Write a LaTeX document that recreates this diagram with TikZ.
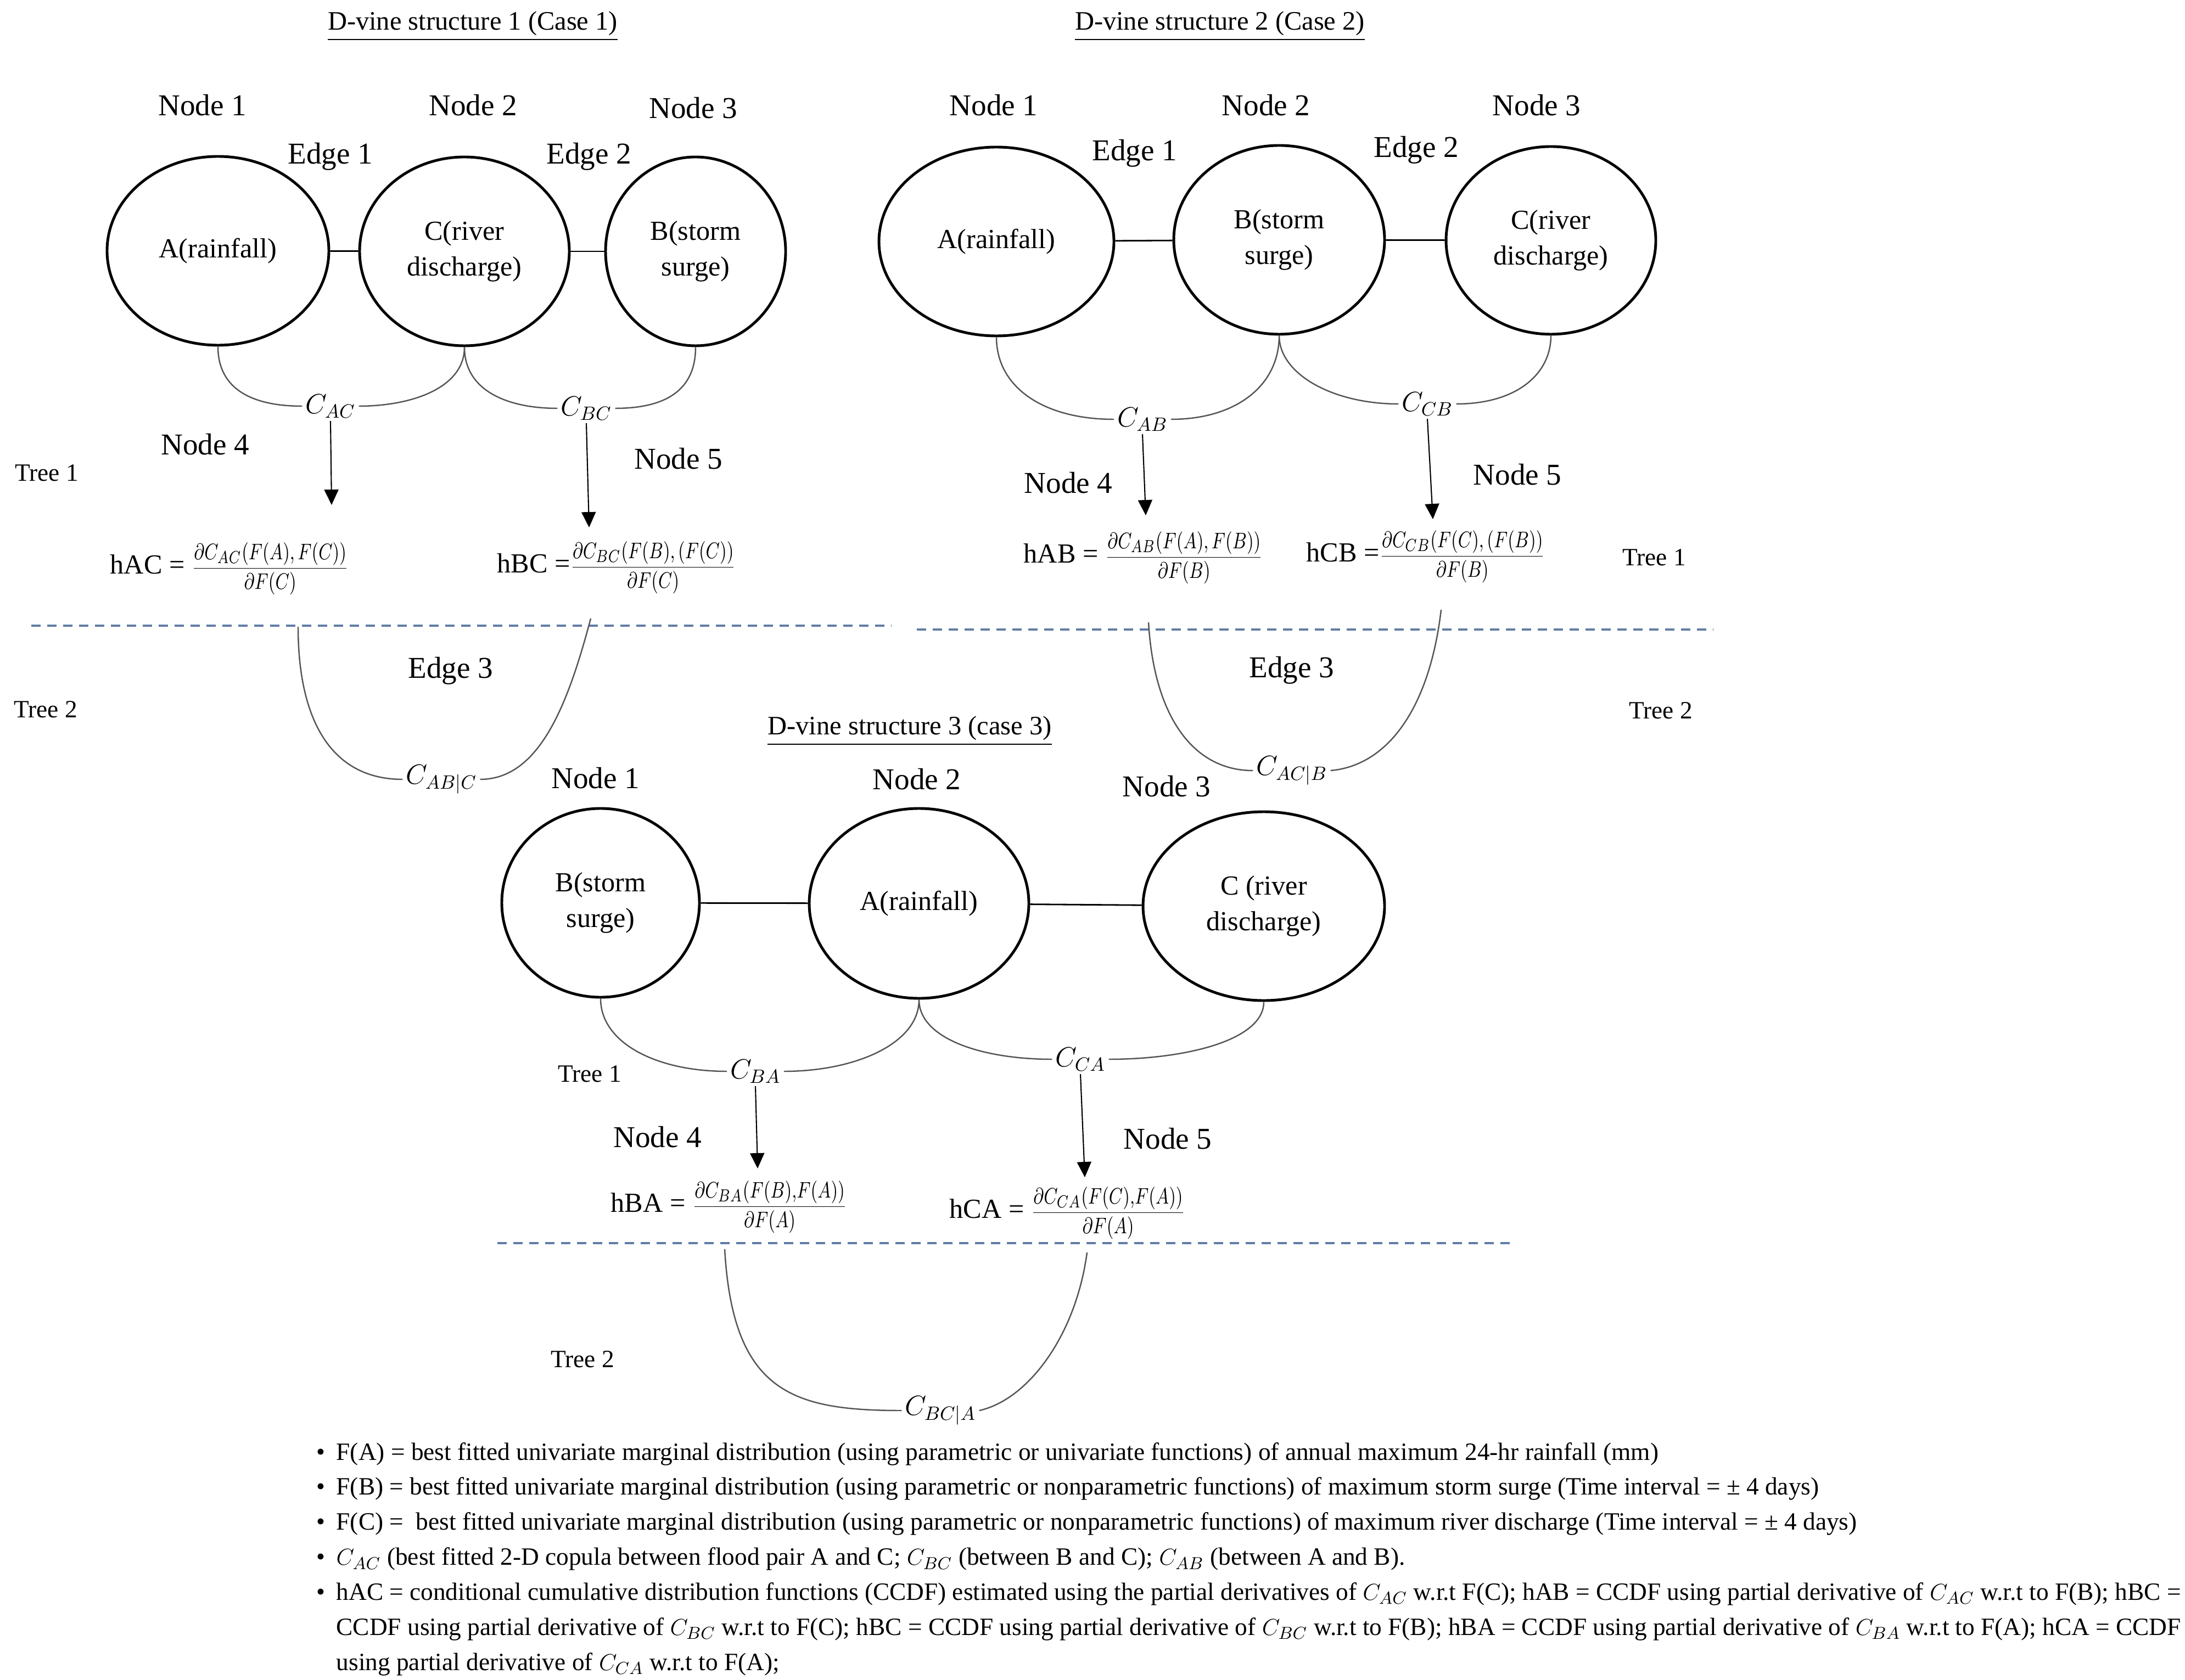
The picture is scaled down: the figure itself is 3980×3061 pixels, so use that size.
\documentclass[tikz,border=0pt]{standalone}
\usepackage{amsmath,amssymb}
\usepackage{fontspec}
\setmainfont{Liberation Serif}
\usepackage{tikz}
\usetikzlibrary{shapes.geometric, arrows.meta}
\usepackage{xcolor}
\definecolor{treeline}{RGB}{98,124,166}
\definecolor{arcgray}{RGB}{85,85,85}

\newcommand{\hfrac}[2]{\scalebox{1}[1.3]{\fontsize{9.5}{11}\selectfont$\dfrac{#1}{#2}$}}

\begin{document}
\begin{tikzpicture}[x=0.1mm,y=0.1mm,yscale=-1,xscale=1,
  vnode/.style={ellipse, draw, line width=1.4pt, inner sep=0pt, align=center, font=\fontsize{14.3}{18.5}\selectfont},
  lbl/.style={font=\fontsize{15.7}{19}\selectfont, inner sep=1pt},
  ttl/.style={font=\fontsize{13.8}{17}\selectfont, inner sep=1pt},
  treelbl/.style={font=\fontsize{12.9}{16}\selectfont, inner sep=1pt},
  cop/.style={font=\fontsize{14}{16}\selectfont, inner sep=1.5pt},
  hfun/.style={font=\fontsize{14.3}{17}\selectfont, inner sep=0pt, anchor=west},
  link/.style={line width=0.8pt},
  pair/.style={arcgray, line width=0.7pt},
  hdown/.style={-{Triangle[length=2.8mm,width=2.6mm]}, line width=0.6pt},
  tier/.style={treeline, line width=1.1pt, dash pattern=on 1.7mm off 1.2mm}]
\useasboundingbox (0,0) rectangle (3980,3061);

%%%%%%%%%%%%%%%% D-vine structure 1 %%%%%%%%%%%%%%%%
\node[ttl] (ttlA) at (861,48) {\underline{D-vine structure 1 (Case 1)}};
% Text Node
\node[lbl] (n1a) at (369,192) {Node 1};
\node[lbl] (n2a) at (862,192) {Node 2};
\node[lbl] (n3a) at (1263,197) {Node 3};
\node[lbl] (e1a) at (602,285) {Edge 1};
\node[lbl] (e2a) at (1073,285) {Edge 2};
%Shape: Ellipse
\node[vnode, minimum width=40.4mm, minimum height=34.4mm] (A1) at (397,457) {A(rainfall)};
\node[vnode, minimum width=38.2mm, minimum height=34.4mm] (C1) at (846,458) {C(river\\discharge)};
\node[vnode, minimum width=32.8mm, minimum height=34.4mm] (B1) at (1267,458) {B(storm\\surge)};
%Straight Lines
\draw[link] (A1) -- (C1);
\draw[link] (C1) -- (B1);
% copulas of tree 1
\node[cop] (cac) at (602,740) {$C_{AC}$};
\node[cop] (cbc) at (1068,744) {$C_{BC}$};
\draw[pair] (A1.south) .. controls +(0,75) and +(-95,0) .. (cac.west);
\draw[pair] (cac.east) .. controls +(95,0) and +(0,75) .. (C1.south);
\draw[pair] (C1.south) .. controls +(0,80) and +(-90,0) .. (cbc.west);
\draw[pair] (cbc.east) .. controls +(90,0) and +(0,80) .. (B1.south);
\node[lbl] (n4a) at (374,810) {Node 4};
\node[lbl] (n5a) at (1236,836) {Node 5};
\node[treelbl] (tr1a) at (85,862) {Tree 1};
\coordinate (d4a) at (604,920);
\coordinate (d5a) at (1073,961);
\draw[hdown] (cac.south) -- (d4a);
\draw[hdown] (cbc.south) -- (d5a);
\node[hfun] (hac) at (200,1036) {hAC = \hfrac{\partial C_{AC}(F(A),F(C))}{\partial F(C)}};
\node[hfun] (hbc) at (905,1034) {hBC =\hfrac{\partial C_{BC}(F(B),(F(C))}{\partial F(C)}};
% tree 2
\draw[tier] (57,1140) -- (1624,1140);
\node[lbl] (e3a) at (821,1222) {Edge 3};
\node[treelbl] (tr2a) at (83,1293) {Tree 2};
\node[cop] (cabc) at (804,1420) {$C_{AB|C}$};
\coordinate (u1) at (543,1142);
\coordinate (v1) at (1076,1127);
\draw[pair] (u1) .. controls +(0,170) and +(-130,0) .. (cabc.west);
\draw[pair] (cabc.east) .. controls +(110,0) and +(-40,150) .. (v1);

%%%%%%%%%%%%%%%% D-vine structure 2 %%%%%%%%%%%%%%%%
\node[ttl] (ttlB) at (2222,48) {\underline{D-vine structure 2 (Case 2)}};
% Text Node
\node[lbl] (n1b) at (1810,192) {Node 1};
\node[lbl] (n2b) at (2306,192) {Node 2};
\node[lbl] (n3b) at (2799,192) {Node 3};
\node[lbl] (e1b) at (2067,279) {Edge 1};
\node[lbl] (e2b) at (2580,273) {Edge 2};
%Shape: Ellipse
\node[vnode, minimum width=42.8mm, minimum height=34.4mm] (A2) at (1815,440) {A(rainfall)};
\node[vnode, minimum width=38.4mm, minimum height=34.4mm] (B2) at (2330,437) {B(storm\\surge)};
\node[vnode, minimum width=38.2mm, minimum height=34.2mm] (C2) at (2825,438) {C(river\\discharge)};
%Straight Lines
\draw[link] (A2) -- (B2);
\draw[link] (B2) -- (C2);
% copulas of tree 1
\node[cop] (cab) at (2081,764) {$C_{AB}$};
\node[cop] (ccb) at (2600,736) {$C_{CB}$};
\draw[pair] (A2.south) .. controls +(0,90) and +(-130,0) .. (cab.west);
\draw[pair] (cab.east) .. controls +(120,0) and +(0,90) .. (B2.south);
\draw[pair] (B2.south) .. controls +(0,70) and +(-120,0) .. (ccb.west);
\draw[pair] (ccb.east) .. controls +(110,0) and +(0,70) .. (C2.south);
\node[lbl] (n4b) at (1946,880) {Node 4};
\node[lbl] (n5b) at (2764,865) {Node 5};
\node[treelbl] (tr1b) at (3013,1016) {Tree 1};
\coordinate (d4b) at (2087,939);
\coordinate (d5b) at (2610,946);
\draw[hdown] (cab.south) -- (d4b);
\draw[hdown] (ccb.south) -- (d5b);
\node[hfun] (hab) at (1864,1016) {hAB = \hfrac{\partial C_{AB}(F(A),F(B))}{\partial F(B)}};
\node[hfun] (hcb) at (2379,1014) {hCB =\hfrac{\partial C_{CB}(F(C),(F(B))}{\partial F(B)}};
% tree 2
\draw[tier] (1670,1147) -- (3120,1147);
\node[lbl] (e3b) at (2353,1221) {Edge 3};
\node[treelbl] (tr2b) at (3025,1295) {Tree 2};
\node[cop] (cacb) at (2353,1404) {$C_{AC|B}$};
\coordinate (u2) at (2092,1134);
\coordinate (v2) at (2625,1111);
\draw[pair] (u2) .. controls +(10,170) and +(-110,0) .. (cacb.west);
\draw[pair] (cacb.east) .. controls +(110,-10) and +(-20,170) .. (v2);

%%%%%%%%%%%%%%%% D-vine structure 3 %%%%%%%%%%%%%%%%
\node[ttl] (ttlC) at (1657,1332) {\underline{D-vine structure 3 (case 3)}};
% Text Node
\node[lbl] (n1c) at (1085,1418) {Node 1};
\node[lbl] (n2c) at (1670,1420) {Node 2};
\node[lbl] (n3c) at (2125,1433) {Node 3};
%Shape: Ellipse
\node[vnode, minimum width=36.0mm, minimum height=34.4mm] (B3) at (1094,1645) {B(storm\\surge)};
\node[vnode, minimum width=40.0mm, minimum height=34.6mm] (A3) at (1674,1646) {A(rainfall)};
\node[vnode, minimum width=44.0mm, minimum height=34.4mm] (C3) at (2302,1651) {C (river\\discharge)};
%Straight Lines
\draw[link] (B3) -- (A3);
\draw[link] (A3) -- (C3);
% copulas of tree 1
\node[cop] (cba) at (1376,1952) {$C_{BA}$};
\node[cop] (cca) at (1968,1930) {$C_{CA}$};
\draw[pair] (B3.south) .. controls +(0,80) and +(-130,0) .. (cba.west);
\draw[pair] (cba.east) .. controls +(130,0) and +(0,80) .. (A3.south);
\draw[pair] (A3.south) .. controls +(0,70) and +(-130,0) .. (cca.west);
\draw[pair] (cca.east) .. controls +(140,0) and +(0,70) .. (C3.south);
\node[treelbl] (tr1c) at (1074,1957) {Tree 1};
\node[lbl] (n4c) at (1198,2072) {Node 4};
\node[lbl] (n5c) at (2127,2075) {Node 5};
\coordinate (d4c) at (1380,2129);
\coordinate (d5c) at (1976,2145);
\draw[hdown] (cba.south) -- (d4c);
\draw[hdown] (cca.south) -- (d5c);
\node[hfun] (hba) at (1112,2199) {hBA = \hfrac{\partial C_{BA}(F(B){,}F(A))}{\partial F(A)}};
\node[hfun] (hca) at (1729,2210) {hCA = \hfrac{\partial C_{CA}(F(C){,}F(A))}{\partial F(A)}};
% tree 2
\draw[tier] (906,2265) -- (2760,2265);
\node[treelbl] (tr2c) at (1061,2477) {Tree 2};
\node[cop] (cbca) at (1713,2570) {$C_{BC|A}$};
\coordinate (u3) at (1320,2276);
\coordinate (v3) at (1980,2282);
\draw[pair] (u3) .. controls +(15,260) and +(-200,0) .. (cbca.west);
\draw[pair] (cbca.east) .. controls +(90,-20) and +(-20,150) .. (v3);

%%%%%%%%%%%%%%%% notes %%%%%%%%%%%%%%%%
\node[anchor=base west, inner sep=0pt, font=\fontsize{12.9}{18.2}\selectfont] (notes) at (572,2660) {%
\begin{minipage}[t]{340mm}
\begin{list}{\textbullet}{\setlength\leftmargin{4mm}\setlength\labelsep{2mm}\setlength\itemsep{0pt}%
\setlength\parsep{0pt}\setlength\topsep{0pt}\setlength\partopsep{0pt}}
\item F(A) = best fitted univariate marginal distribution (using parametric or univariate functions) of annual maximum 24-hr rainfall (mm)
\item F(B) = best fitted univariate marginal distribution (using parametric or nonparametric functions) of maximum storm surge (Time interval = ± 4 days)
\item F(C) = \ best fitted univariate marginal distribution (using parametric or nonparametric functions) of maximum river discharge (Time interval = ± 4 days)
\item $C_{AC}$ (best fitted 2-D copula between flood pair A and C; $C_{BC}$ (between B and C); $C_{AB}$ (between A and B).
\item hAC = conditional cumulative distribution functions (CCDF) estimated using the partial derivatives of $C_{AC}$ w.r.t F(C); hAB = CCDF using partial derivative of $C_{AC}$ w.r.t to F(B); hBC =\linebreak
CCDF using partial derivative of $C_{BC}$ w.r.t to F(C); hBC = CCDF using partial derivative of $C_{BC}$ w.r.t to F(B); hBA = CCDF using partial derivative of $C_{BA}$ w.r.t to F(A); hCA = CCDF\linebreak
using partial derivative of $C_{CA}$ w.r.t to F(A);
\end{list}
\end{minipage}};

\end{tikzpicture}
\end{document}
